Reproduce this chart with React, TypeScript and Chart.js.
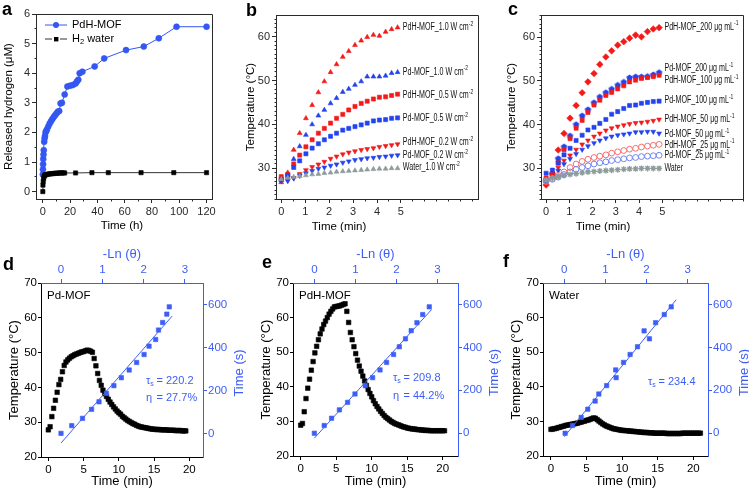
import React, { useEffect, useRef } from 'react';
import { Chart, registerables } from 'chart.js';

Chart.register(...registerables);

const PAGE_W = 749;
const PAGE_H = 490;
const FONT = '"Liberation Sans", Arial, Helvetica, sans-serif';

// ================= DATA =================
// Panel a: released hydrogen
const aPdhTime = [0, 0.1, 0.2, 0.3, 0.5, 0.7, 1, 1.3, 1.6, 2, 2.5, 3, 4, 5, 6, 7, 8, 9, 10, 11, 12, 13, 14, 16, 18, 20, 22, 24, 25, 26, 27, 29, 38, 45, 61, 74, 85, 98, 120];
const aPdhH2 = [0.58, 0.75, 0.92, 1.1, 1.25, 1.4, 1.68, 1.8, 1.88, 2.0, 2.05, 2.1, 2.2, 2.3, 2.38, 2.45, 2.52, 2.58, 2.64, 2.7, 2.72, 2.98, 3.0, 3.28, 3.55, 3.58, 3.6, 3.65, 3.72, 3.78, 4.0, 4.05, 4.23, 4.5, 4.78, 4.9, 5.18, 5.57, 5.57];
const aWaterTime = [0, 0.1, 0.3, 0.6, 1, 1.5, 2, 3, 4, 5, 6, 7, 8, 9, 10, 11, 12, 13, 14, 15, 16, 24, 36, 48, 72, 96, 120];
const aWaterH2 = [0, 0.22, 0.35, 0.45, 0.52, 0.55, 0.57, 0.58, 0.59, 0.6, 0.6, 0.61, 0.61, 0.62, 0.62, 0.62, 0.63, 0.63, 0.63, 0.63, 0.63, 0.63, 0.64, 0.64, 0.64, 0.64, 0.64];
const aXTicks = [0, 20, 40, 60, 80, 100, 120];
const aYTicks = [0, 1, 2, 3, 4, 5, 6];

// Panels b & c: heating curves
const heatTime = [0, 0.27, 0.52, 0.77, 1.03, 1.29, 1.55, 1.8, 2.06, 2.31, 2.57, 2.82, 3.08, 3.34, 3.59, 3.85, 4.1, 4.36, 4.61, 4.86];
const heatXTicks = [0, 1, 2, 3, 4, 5];
const heatYTicks = [30, 40, 50, 60];

const bPdh10 = [26.8, 29.0, 34.2, 38.0, 41.4, 44.4, 47.3, 49.8, 51.9, 53.7, 55.4, 56.7, 58.1, 59.1, 59.9, 60.4, 60.2, 61.1, 61.7, 62.1];
const bPd10 = [27.3, 28.5, 32.1, 35.0, 37.6, 40.0, 42.0, 43.3, 44.8, 46.0, 47.4, 48.1, 49.0, 49.8, 50.9, 50.9, 50.9, 51.1, 51.7, 51.9];
const bPdh05 = [28.1, 28.6, 31.0, 33.0, 34.9, 36.5, 38.0, 39.1, 40.3, 41.4, 42.3, 43.3, 44.1, 44.8, 45.3, 45.8, 46.2, 46.3, 46.6, 46.9];
const bPd05 = [27.5, 28.3, 30.2, 31.7, 33.3, 34.6, 35.6, 36.5, 37.3, 38.0, 38.7, 39.1, 39.5, 39.9, 40.3, 40.8, 41.0, 41.1, 41.4, 41.5];
const bPdh02 = [27.3, 27.3, 27.8, 28.7, 29.6, 30.3, 30.9, 31.5, 32.2, 32.7, 33.2, 33.6, 33.9, 34.2, 34.4, 34.6, 34.9, 35.1, 35.3, 35.5];
const bPd02 = [27.1, 27.1, 27.7, 28.3, 28.9, 29.4, 29.9, 30.2, 30.6, 30.9, 31.3, 31.6, 31.9, 32.1, 32.3, 32.4, 32.6, 32.7, 32.9, 33.0];
const bWater = [27.5, 27.8, 28.0, 28.2, 28.4, 28.6, 28.7, 28.9, 29.0, 29.2, 29.3, 29.4, 29.5, 29.6, 29.7, 29.8, 29.9, 29.9, 30.0, 30.0];
const bLabelX = 5.08;
const bLabelNames = ['PdH-MOF_1.0 W cm', 'Pd-MOF_1.0 W cm', 'PdH-MOF_0.5 W cm', 'Pd-MOF_0.5 W cm', 'PdH-MOF_0.2 W cm', 'Pd-MOF_0.2 W cm', 'Water_1.0 W cm'];
const bLabelSup = ['-2', '-2', '-2', '-2', '-2', '-2', '-2'];
const bLabelY = [62.1, 52.0, 46.6, 41.4, 35.9, 33.0, 30.2];

const cPdh200 = [26.2, 28.9, 34.2, 38.0, 41.5, 44.4, 47.3, 49.8, 51.7, 53.8, 55.5, 56.9, 58.2, 59.0, 59.8, 60.5, 60.1, 61.3, 61.9, 62.2];
const cPd200 = [27.3, 28.5, 32.3, 35.0, 37.5, 40.1, 42.1, 43.5, 45.1, 46.4, 47.4, 48.2, 49.1, 49.8, 50.8, 51.0, 51.0, 51.1, 51.5, 52.0];
const cPdh100 = [27.8, 28.8, 31.3, 34.3, 36.8, 39.2, 41.0, 42.8, 44.5, 45.6, 46.7, 47.4, 48.2, 48.9, 49.8, 50.2, 50.6, 50.8, 51.0, 51.3];
const cPd100 = [28.9, 29.6, 31.2, 33.1, 34.6, 36.4, 37.6, 38.8, 39.4, 40.3, 41.2, 42.4, 43.0, 43.7, 44.4, 44.5, 44.9, 45.1, 45.3, 45.4];
const cPdh50 = [27.5, 28.4, 30.2, 31.8, 33.0, 34.3, 35.5, 36.4, 37.3, 38.0, 38.7, 39.2, 39.6, 39.9, 40.2, 40.4, 40.5, 40.7, 40.9, 41.2];
const cPd50 = [27.2, 28.0, 29.5, 31.0, 32.2, 33.3, 34.3, 35.1, 35.8, 36.4, 36.9, 37.3, 37.6, 37.8, 38.0, 38.3, 38.3, 38.4, 38.4, 38.0];
const cPdh25 = [27.0, 27.7, 28.4, 29.2, 30.2, 31.0, 31.6, 32.1, 32.5, 32.8, 33.1, 33.5, 33.8, 34.1, 34.4, 34.6, 34.9, 35.1, 35.3, 35.5];
const cPd25 = [27.2, 27.5, 28.0, 28.6, 29.2, 29.8, 30.2, 30.6, 31.0, 31.3, 31.5, 31.8, 32.0, 32.2, 32.4, 32.5, 32.7, 32.8, 32.9, 33.0];
const cWater = [27.3, 27.8, 28.1, 28.4, 28.6, 28.8, 29.0, 29.2, 29.3, 29.4, 29.5, 29.6, 29.7, 29.8, 29.9, 29.9, 30.0, 30.0, 30.0, 30.0];
const cLabelX = 5.09;
const cLabelNames = ['PdH-MOF_200 μg mL', 'Pd-MOF_200 μg mL', 'PdH-MOF_100 μg mL', 'Pd-MOF_100 μg mL', 'PdH-MOF_50 μg mL', 'Pd-MOF_50 μg mL', 'PdH-MOF_25 μg mL', 'Pd-MOF_25 μg mL', 'Water'];
const cLabelSup = ['-1', '-1', '-1', '-1', '-1', '-1', '-1', '-1', ''];
const cLabelY = [62.4, 52.9, 50.2, 45.5, 41.2, 37.8, 35.4, 32.9, 30.0];

// Panels d, e, f: heating / cooling and -ln(theta) fits
const coolTime = [0, 0.25, 0.5, 0.75, 1, 1.25, 1.5, 1.75, 2, 2.25, 2.5, 2.75, 3, 3.25, 3.5, 3.75, 4, 4.25, 4.5, 4.75, 5, 5.25, 5.5, 5.75, 6, 6.25, 6.5, 6.75, 7, 7.25, 7.5, 7.75, 8, 8.25, 8.5, 8.75, 9, 9.25, 9.5, 9.75, 10, 10.25, 10.5, 10.75, 11, 11.25, 11.5, 11.75, 12, 12.25, 12.5, 12.75, 13, 13.25, 13.5, 13.75, 14, 14.25, 14.5, 14.75, 15, 15.25, 15.5, 15.75, 16, 16.25, 16.5, 16.75, 17, 17.25, 17.5, 17.75, 18, 18.25, 18.5, 18.75, 19, 19.25, 19.5, 19.75, 20, 20.25, 20.5, 20.75, 21];
const coolXTicks = [0, 5, 10, 15, 20];
const coolYTicks = [20, 30, 40, 50, 60, 70];
const lnTicks = [0, 1, 2, 3];
const secTicks = [0, 200, 400, 600];

const dTemp = [27.8, 28.7, 31.6, 34.0, 36.3, 38.6, 40.8, 42.3, 44.5, 46.3,
  47.3, 47.9, 48.4, 48.8, 49.1, 49.4, 49.6, 49.8, 50.0, 50.2,
  50.3, 50.5, 50.7, 50.6, 50.4, 50.1, 48.3, 46.2, 44.0, 42.0,
  40.6, 39.2, 38.2, 37.4, 36.6, 35.8, 35.1, 34.4, 33.8, 33.2,
  32.7, 32.3, 31.7, 31.3, 30.9, 30.5, 30.2, 29.9, 29.6, 29.4,
  29.1, 28.9, 28.7, 28.6, 28.5, 28.4, 28.3, 28.2, 28.1, 28.0,
  28.0, 27.9, 27.9, 27.9, 27.8, 27.8, 27.8, 27.8, 27.7, 27.7,
  27.7, 27.7, 27.6, 27.6, 27.6, 27.6, 27.5, 27.5, 27.5];
const dLnTheta = [0, 0.26, 0.52, 0.74, 0.92, 1.1, 1.28, 1.46, 1.65, 1.83, 2.01, 2.13, 2.29, 2.36, 2.46, 2.56, 2.62];
const dCoolSec = [0, 36, 70, 112, 147, 186, 222, 259, 295, 330, 367, 406, 437, 481, 516, 555, 589];
const dFitX = [0, 2.69];
const dFitY = [-45, 546];

const eTemp = [28.9, 29.4, 32.8, 36.6, 39.6, 42.2, 44.8, 47.3, 49.8, 51.7,
  53.6, 55.3, 56.7, 58.0, 59.0, 60.0, 61.0, 61.8, 62.5, 63.1,
  63.2, 63.3, 63.4, 63.6, 63.8, 64.0, 61.8, 58.6, 55.7, 53.6,
  51.6, 49.6, 47.7, 46.0, 44.5, 43.1, 41.7, 40.4, 39.2, 38.1,
  37.1, 36.0, 35.1, 34.3, 33.6, 32.9, 32.3, 31.7, 31.2, 30.8,
  30.4, 30.0, 29.7, 29.4, 29.2, 29.0, 28.8, 28.6, 28.4, 28.3,
  28.1, 28.0, 27.9, 27.8, 27.8, 27.7, 27.6, 27.6, 27.5, 27.5,
  27.4, 27.4, 27.4, 27.3, 27.3, 27.3, 27.3, 27.3, 27.3, 27.3,
  27.3, 27.3];
const eLnTheta = [0, 0.24, 0.42, 0.61, 0.81, 0.99, 1.24, 1.42, 1.6, 1.76, 1.93, 2.07, 2.22, 2.36, 2.5, 2.64, 2.8];
const eCoolSec = [0, 36, 70, 109, 144, 183, 222, 259, 295, 330, 367, 403, 440, 478, 515, 553, 589];
const eFitX = [0, 2.86];
const eFitY = [-23, 577];

const fTemp = [27.7, 27.8, 27.9, 28.0, 28.2, 28.3, 28.5, 28.6, 28.8, 28.9,
  29.0, 29.1, 29.2, 29.3, 29.4, 29.5, 29.7, 29.8, 30.0, 30.1,
  30.3, 30.4, 30.6, 30.8, 31.0, 30.9, 30.5, 30.1, 29.7, 29.3,
  29.0, 28.7, 28.5, 28.3, 28.1, 27.9, 27.8, 27.7, 27.6, 27.5,
  27.4, 27.4, 27.3, 27.3, 27.2, 27.2, 27.1, 27.1, 27.0, 27.0,
  26.9, 26.9, 26.8, 26.8, 26.8, 26.7, 26.7, 26.7, 26.6, 26.6,
  26.6, 26.6, 26.6, 26.6, 26.6, 26.5, 26.5, 26.5, 26.5, 26.5,
  26.5, 26.5, 26.5, 26.5, 26.6, 26.6, 26.6, 26.6, 26.6, 26.6,
  26.6, 26.6, 26.6, 26.6, 26.6];
const fLnTheta = [0.02, 0.2, 0.41, 0.57, 0.75, 0.84, 1.03, 1.26, 1.25, 1.44, 1.6, 1.78, 1.94, 2.07, 2.22, 2.43, 2.6];
const fCoolSec = [0, 36, 74, 112, 150, 183, 222, 259, 295, 330, 367, 403, 477, 440, 515, 553, 589];
const fFitX = [0, 2.72];
const fFitY = [-16, 622];

// ================= STYLE =================
const AX = '#2a2a2a';
const A_BLUE = '#3457f2';
const RED = '#f41a1a';
const BLUE = '#2243ee';
const GRAY = '#8d9b9b';
const LRED = '#f27070';
const LBLUE = '#7084f2';
const DF_BLUE = '#3d5ef6';

type Run = { t: string; size?: number; dy?: number };
type RichOpts = {
  size: number; color?: string; bold?: boolean; rotate?: number;
  align?: 'left' | 'center' | 'right'; scaleX?: number; baseline?: CanvasTextBaseline;
};

function rich(ctx: CanvasRenderingContext2D, runs: Run[], x: number, y: number, o: RichOpts) {
  ctx.save();
  ctx.translate(x, y);
  if (o.rotate) ctx.rotate(o.rotate);
  if (o.scaleX) ctx.scale(o.scaleX, 1);
  ctx.fillStyle = o.color || '#000';
  ctx.textBaseline = o.baseline || 'middle';
  ctx.textAlign = 'left';
  const w = o.bold ? 'bold ' : '';
  const fonts = runs.map((r) => `${w}${r.size ?? o.size}px ${FONT}`);
  let total = 0;
  const widths = runs.map((r, i) => {
    ctx.font = fonts[i];
    const m = ctx.measureText(r.t).width;
    total += m;
    return m;
  });
  let cx = o.align === 'center' ? -total / 2 : o.align === 'right' ? -total : 0;
  runs.forEach((r, i) => {
    ctx.font = fonts[i];
    ctx.fillText(r.t, cx, r.dy ?? 0);
    cx += widths[i];
  });
  ctx.restore();
}

const al = (v: number) => Math.round(v - 0.5) + 0.5;

type Minor = { axis: string; step: number; len: number; to?: number; color: string };
type DecorSpec = { frame?: string; minor?: Minor[]; draw?: (chart: any, ctx: CanvasRenderingContext2D) => void };

function decor(spec: DecorSpec) {
  return {
    id: 'decor',
    afterDraw(chart: any) {
      const ctx = chart.ctx as CanvasRenderingContext2D;
      const a = chart.chartArea;
      ctx.save();
      ctx.lineWidth = 1;
      if (spec.frame) {
        ctx.strokeStyle = spec.frame;
        ctx.beginPath();
        ctx.moveTo(al(a.left), al(a.top));
        ctx.lineTo(al(a.right), al(a.top));
        ctx.lineTo(al(a.right), al(a.bottom));
        ctx.stroke();
      }
      for (const m of spec.minor || []) {
        const s = chart.scales[m.axis];
        const majors: number[] = s.ticks.map((t: any) => t.value);
        const end = m.to ?? s.max;
        ctx.strokeStyle = m.color;
        ctx.beginPath();
        for (let k = Math.ceil(s.min / m.step); k * m.step <= end + 1e-9; k++) {
          const v = k * m.step;
          if (majors.some((mv) => Math.abs(mv - v) < 1e-6)) continue;
          const p = al(s.getPixelForValue(v));
          if (s.isHorizontal()) {
            const y0 = s.position === 'bottom' ? al(a.bottom) : al(a.top);
            const dir = s.position === 'bottom' ? 1 : -1;
            ctx.moveTo(p, y0);
            ctx.lineTo(p, y0 + dir * m.len);
          } else {
            const x0 = s.position === 'left' ? al(a.left) : al(a.right);
            const dir = s.position === 'left' ? -1 : 1;
            ctx.moveTo(x0, p);
            ctx.lineTo(x0 + dir * m.len, p);
          }
        }
        ctx.stroke();
      }
      ctx.restore();
      if (spec.draw) {
        ctx.save();
        spec.draw(chart, ctx);
        ctx.restore();
      }
    },
  };
}

type AxisOpt = {
  pos: 'left' | 'right' | 'top' | 'bottom'; min: number; max: number; ticks: number[];
  size: number; color: string; font: number; tickLen?: number; pad?: number;
};

function axis(o: AxisOpt) {
  const vertical = o.pos === 'left' || o.pos === 'right';
  return {
    type: 'linear',
    axis: vertical ? 'y' : 'x',
    position: o.pos,
    min: o.min,
    max: o.max,
    afterBuildTicks: (s: any) => { s.ticks = o.ticks.map((v) => ({ value: v })); },
    afterFit: (s: any) => { if (vertical) s.width = o.size; else s.height = o.size; },
    grid: { display: true, drawOnChartArea: false, drawTicks: true, tickLength: o.tickLen ?? 4, tickWidth: 1, color: o.color, lineWidth: 1 },
    border: { display: true, color: o.color, width: 1 },
    ticks: { color: o.color, font: { family: FONT, size: o.font }, padding: o.pad ?? 2, autoSkip: false, maxRotation: 0, minRotation: 0 },
    title: { display: false },
  };
}

type Area = { left: number; right: number; top: number; bottom: number };
function padFor(area: Area, s: { left?: number; right?: number; top?: number; bottom?: number }) {
  return {
    left: area.left - (s.left || 0),
    right: PAGE_W - area.right - (s.right || 0),
    top: area.top - (s.top || 0),
    bottom: PAGE_H - area.bottom - (s.bottom || 0),
  };
}

function baseOptions(padding: any, scales: any) {
  return {
    responsive: false,
    maintainAspectRatio: false,
    animation: false,
    devicePixelRatio: 1,
    events: [],
    layout: { padding },
    plugins: { legend: { display: false }, tooltip: { enabled: false }, title: { display: false } },
    scales,
  };
}

const pts = (xs: number[], ys: number[]) => ys.map((y, i) => ({ x: xs[i], y }));

function marker(data: any[], style: any, color: string, radius: number, extra: any = {}) {
  return {
    data,
    showLine: false,
    pointStyle: style,
    pointRadius: radius,
    pointBackgroundColor: color,
    pointBorderColor: color,
    pointBorderWidth: 0.6,
    ...extra,
  };
}

function pentagon(color: string, r: number) {
  const c = document.createElement('canvas');
  const s = Math.ceil(r * 2 + 2);
  c.width = s;
  c.height = s;
  const g = c.getContext('2d')!;
  g.fillStyle = color;
  g.beginPath();
  for (let i = 0; i < 5; i++) {
    const ang = -Math.PI / 2 + (i * 2 * Math.PI) / 5;
    const px = s / 2 + r * Math.cos(ang);
    const py = s / 2 + 0.4 + r * Math.sin(ang);
    if (i === 0) g.moveTo(px, py); else g.lineTo(px, py);
  }
  g.closePath();
  g.fill();
  return c;
}

// ================= PANEL BUILDERS =================
function buildA() {
  const area = { left: 36, right: 212, top: 14, bottom: 199 };
  const scales = {
    x: axis({ pos: 'bottom', min: -5, max: 124, ticks: aXTicks, size: 20, color: AX, font: 11 }),
    y: axis({ pos: 'left', min: -0.25, max: 6, ticks: aYTicks, size: 30, color: AX, font: 11 }),
  };
  return {
    type: 'scatter',
    data: {
      datasets: [
        marker(pts(aWaterTime, aWaterH2), 'rect', '#000', 3, { showLine: true, borderColor: '#333', borderWidth: 1 }),
        marker(pts(aPdhTime, aPdhH2), 'circle', A_BLUE, 3, { showLine: true, borderColor: A_BLUE, borderWidth: 1 }),
      ],
    },
    options: baseOptions(padFor(area, { left: 30, bottom: 20 }), scales),
    plugins: [decor({
      frame: AX,
      minor: [{ axis: 'x', step: 10, len: 2, color: AX }, { axis: 'y', step: 0.5, len: 2, color: AX }],
      draw: (chart, ctx) => {
        const a = chart.chartArea;
        rich(ctx, [{ t: 'Released hydrogen (μM)' }], 9, (a.top + a.bottom) / 2, { size: 11.5, rotate: -Math.PI / 2, align: 'center' });
        rich(ctx, [{ t: 'Time (h)' }], 122, 226, { size: 11.5, align: 'center' });
        rich(ctx, [{ t: 'a' }], 2, 15, { size: 18, bold: true, baseline: 'alphabetic' });
        // legend
        const lx = a.left + 9;
        const y1 = a.top + 11;
        const y2 = a.top + 25;
        ctx.lineWidth = 1;
        ctx.strokeStyle = A_BLUE;
        ctx.beginPath(); ctx.moveTo(lx, y1); ctx.lineTo(lx + 22, y1); ctx.stroke();
        ctx.fillStyle = A_BLUE;
        ctx.beginPath(); ctx.arc(lx + 11, y1, 3, 0, Math.PI * 2); ctx.fill();
        rich(ctx, [{ t: 'PdH-MOF' }], lx + 27, y1, { size: 11 });
        ctx.strokeStyle = '#333';
        ctx.beginPath(); ctx.moveTo(lx, y2); ctx.lineTo(lx + 7, y2); ctx.moveTo(lx + 15, y2); ctx.lineTo(lx + 22, y2); ctx.stroke();
        ctx.fillStyle = '#000';
        ctx.fillRect(lx + 9, y2 - 2, 4.4, 4.4);
        rich(ctx, [{ t: 'H' }, { t: '2', size: 7.5, dy: 2.5 }, { t: ' water' }], lx + 27, y2, { size: 11 });
      },
    })],
  };
}

function heatAxes(xMax: number, yMin: number, yMax: number) {
  return {
    x: axis({ pos: 'bottom', min: -0.22, max: xMax, ticks: heatXTicks, size: 20, color: AX, font: 11 }),
    y: axis({ pos: 'left', min: yMin, max: yMax, ticks: heatYTicks, size: 30, color: AX, font: 11 }),
  };
}

function labelDrawer(names: string[], sups: string[], ys: number[], lx: number) {
  return (chart: any, ctx: CanvasRenderingContext2D) => {
    const sx = chart.scales.x;
    const sy = chart.scales.y;
    names.forEach((n, i) => {
      const runs: Run[] = [{ t: n }];
      if (sups[i]) runs.push({ t: sups[i], size: 7, dy: -3.5 });
      rich(ctx, runs, sx.getPixelForValue(lx), sy.getPixelForValue(ys[i]), { size: 10, scaleX: 0.71, color: '#111' });
    });
  };
}

function buildB() {
  const area = { left: 276, right: 478, top: 15, bottom: 199 };
  const T = heatTime;
  const drawLabels = labelDrawer(bLabelNames, bLabelSup, bLabelY, bLabelX);
  return {
    type: 'scatter',
    data: {
      datasets: [
        marker(pts(T, bWater), 'triangle', GRAY, 2.8),
        marker(pts(T, bPd02), 'triangle', BLUE, 2.8, { pointRotation: 180 }),
        marker(pts(T, bPdh02), 'triangle', RED, 2.8, { pointRotation: 180 }),
        marker(pts(T, bPd05), 'rect', BLUE, 2.9),
        marker(pts(T, bPdh05), 'rect', RED, 2.9),
        marker(pts(T, bPd10), 'triangle', BLUE, 2.8),
        marker(pts(T, bPdh10), 'triangle', RED, 2.8),
      ],
    },
    options: baseOptions(padFor(area, { left: 30, bottom: 20 }), heatAxes(8.22, 23.0, 64.95)),
    plugins: [decor({
      frame: AX,
      minor: [{ axis: 'x', step: 0.5, len: 2, to: 8, color: AX }, { axis: 'y', step: 1, len: 2, color: AX }],
      draw: (chart, ctx) => {
        const a = chart.chartArea;
        rich(ctx, [{ t: 'Temperature (°C)' }], 251, (a.top + a.bottom) / 2, { size: 11.5, rotate: -Math.PI / 2, align: 'center' });
        rich(ctx, [{ t: 'Time (min)' }], 339, 227, { size: 11.5, align: 'center' });
        rich(ctx, [{ t: 'b' }], 246, 16, { size: 18, bold: true, baseline: 'alphabetic' });
        drawLabels(chart, ctx);
      },
    })],
  };
}

function buildC() {
  const area = { left: 541, right: 747, top: 15, bottom: 199 };
  const T = heatTime;
  const drawLabels = labelDrawer(cLabelNames, cLabelSup, cLabelY, cLabelX);
  const penta = pentagon(BLUE, 3.4);
  return {
    type: 'scatter',
    data: {
      datasets: [
        marker(pts(T, cWater), 'star', GRAY, 3, { pointBorderWidth: 1.3 }),
        marker(pts(T, cPd25), 'circle', LBLUE, 2.9, { pointBackgroundColor: 'rgba(0,0,0,0)', pointBorderWidth: 1 }),
        marker(pts(T, cPdh25), 'circle', LRED, 2.9, { pointBackgroundColor: 'rgba(0,0,0,0)', pointBorderWidth: 1 }),
        marker(pts(T, cPd50), 'triangle', BLUE, 2.8, { pointRotation: 180 }),
        marker(pts(T, cPdh50), 'triangle', RED, 2.8, { pointRotation: 180 }),
        marker(pts(T, cPd100), 'rect', BLUE, 2.9),
        marker(pts(T, cPdh100), 'rect', RED, 2.9),
        marker(pts(T, cPd200), penta, BLUE, 3.4),
        marker(pts(T, cPdh200), 'rectRot', RED, 3.3),
      ],
    },
    options: baseOptions(padFor(area, { left: 30, bottom: 20 }), heatAxes(8.5, 23.0, 65.1)),
    plugins: [decor({
      frame: AX,
      minor: [{ axis: 'x', step: 0.5, len: 2, to: 8.5, color: AX }, { axis: 'y', step: 1, len: 2, color: AX }],
      draw: (chart, ctx) => {
        const a = chart.chartArea;
        rich(ctx, [{ t: 'Temperature (°C)' }], 512, (a.top + a.bottom) / 2, { size: 11.5, rotate: -Math.PI / 2, align: 'center' });
        rich(ctx, [{ t: 'Time (min)' }], 603, 227, { size: 11.5, align: 'center' });
        rich(ctx, [{ t: 'c' }], 508, 15, { size: 18, bold: true, baseline: 'alphabetic' });
        drawLabels(chart, ctx);
      },
    })],
  };
}

type CoolSpec = {
  area: Area; xMin: number; xMax: number; x2Min: number; x2Max: number; y2Min: number; y2Max: number;
  temp: number[]; ln: number[]; sec: number[]; fitX: number[]; fitY: number[];
  sample: string; tau: string; eta?: string; tauX: number; tauY: number; etaY?: number;
  letter: string; letterX: number; letterY: number;
};

function buildCool(s: CoolSpec) {
  const area = s.area;
  const scales = {
    x: axis({ pos: 'bottom', min: s.xMin, max: s.xMax, ticks: coolXTicks, size: 20, color: '#000', font: 11.5 }),
    y: axis({ pos: 'left', min: 20, max: 70, ticks: coolYTicks, size: 30, color: '#000', font: 11.5, tickLen: 3, pad: 1 }),
    x2: axis({ pos: 'top', min: s.x2Min, max: s.x2Max, ticks: lnTicks, size: 30, color: DF_BLUE, font: 11.5 }),
    y2: axis({ pos: 'right', min: s.y2Min, max: s.y2Max, ticks: secTicks, size: 35, color: DF_BLUE, font: 11.5, pad: 1 }),
  };
  return {
    type: 'scatter',
    data: {
      datasets: [
        { data: pts(s.fitX, s.fitY), xAxisID: 'x2', yAxisID: 'y2', showLine: true, pointRadius: 0, borderColor: DF_BLUE, borderWidth: 1 },
        marker(pts(s.ln, s.sec), 'rect', DF_BLUE, 3.1, { xAxisID: 'x2', yAxisID: 'y2' }),
        marker(pts(coolTime.slice(0, s.temp.length), s.temp), 'rect', '#000', 3.2, { xAxisID: 'x', yAxisID: 'y' }),
      ],
    },
    options: baseOptions(padFor(area, { left: 30, right: 35, top: 30, bottom: 20 }), scales),
    plugins: [decor({
      draw: (chart, ctx) => {
        const a = chart.chartArea;
        const cx = (a.left + a.right) / 2;
        const cy = (a.top + a.bottom) / 2;
        rich(ctx, [{ t: 'Temperature (°C)' }], a.left - 27, cy, { size: 13, rotate: -Math.PI / 2, align: 'center' });
        rich(ctx, [{ t: 'Time (min)' }], cx, 481, { size: 13, align: 'center' });
        rich(ctx, [{ t: '-Ln (θ)' }], cx, 254, { size: 13, align: 'center', color: DF_BLUE });
        rich(ctx, [{ t: 'Time (s)' }], a.right + 36, cy + 3, { size: 13, rotate: -Math.PI / 2, align: 'center', color: DF_BLUE });
        rich(ctx, [{ t: s.sample }], a.left + 6, 296, { size: 11.5 });
        rich(ctx, [{ t: 'τ' }, { t: 's', size: 7, dy: 3.5 }], s.tauX, s.tauY, { size: 11, color: DF_BLUE });
        rich(ctx, [{ t: '= ' + s.tau }], s.tauX + 10.5, s.tauY, { size: 11, color: DF_BLUE });
        if (s.eta && s.etaY) {
          rich(ctx, [{ t: 'η' }], s.tauX, s.etaY, { size: 11, color: DF_BLUE });
          rich(ctx, [{ t: '= ' + s.eta }], s.tauX + 10.5, s.etaY, { size: 11, color: DF_BLUE });
        }
        rich(ctx, [{ t: s.letter }], s.letterX, s.letterY, { size: 18, bold: true, baseline: 'alphabetic' });
      },
    })],
  };
}

const buildD = () => buildCool({
  area: { left: 41, right: 203, top: 283, bottom: 457 },
  xMin: -1.04, xMax: 21.94, x2Min: -0.484, x2Max: 3.436, y2Min: -110, y2Max: 700,
  temp: dTemp, ln: dLnTheta, sec: dCoolSec, fitX: dFitX, fitY: dFitY,
  sample: 'Pd-MOF', tau: '220.2', eta: '27.7%', tauX: 146, tauY: 381, etaY: 398,
  letter: 'd', letterX: 3, letterY: 270,
});
const buildE = () => buildCool({
  area: { left: 293, right: 458, top: 283, bottom: 456 },
  xMin: -1.08, xMax: 22.15, x2Min: -0.52, x2Max: 3.5, y2Min: -106, y2Max: 700,
  temp: eTemp, ln: eLnTheta, sec: eCoolSec, fitX: eFitX, fitY: eFitY,
  sample: 'PdH-MOF', tau: '209.8', eta: '44.2%', tauX: 393, tauY: 378, etaY: 396,
  letter: 'e', letterX: 262, letterY: 268,
});
const buildF = () => buildCool({
  area: { left: 543, right: 708, top: 283, bottom: 456 },
  xMin: -1.12, xMax: 22.07, x2Min: -0.518, x2Max: 3.494, y2Min: -106, y2Max: 700,
  temp: fTemp, ln: fLnTheta, sec: fCoolSec, fitX: fFitX, fitY: fFitY,
  sample: 'Water', tau: '234.4', tauX: 648, tauY: 382,
  letter: 'f', letterX: 503, letterY: 267,
});

function ChartCanvas({ build }: { build: () => any }) {
  const ref = useRef<HTMLCanvasElement>(null);
  useEffect(() => {
    if (!ref.current) return;
    const chart = new Chart(ref.current, build());
    return () => chart.destroy();
  }, [build]);
  return (
    <canvas
      ref={ref}
      width={PAGE_W}
      height={PAGE_H}
      style={{ position: 'absolute', left: 0, top: 0, width: PAGE_W, height: PAGE_H }}
    />
  );
}

export default function App() {
  return (
    <div style={{ position: 'fixed', left: 0, top: 0, width: PAGE_W, height: PAGE_H, background: '#fff', overflow: 'hidden' }}>
      <ChartCanvas build={buildA} />
      <ChartCanvas build={buildB} />
      <ChartCanvas build={buildC} />
      <ChartCanvas build={buildD} />
      <ChartCanvas build={buildE} />
      <ChartCanvas build={buildF} />
    </div>
  );
}
